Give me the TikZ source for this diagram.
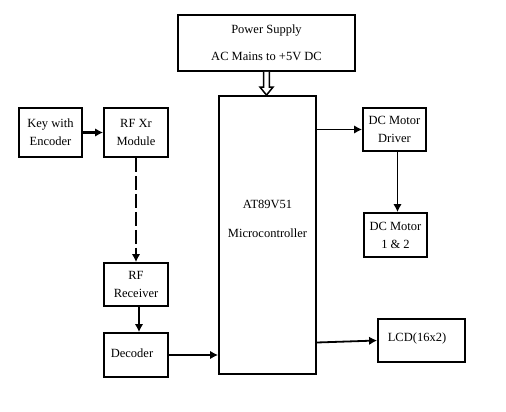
\documentclass[tikz,border=0pt]{standalone}
\usepackage{fontspec}
\setmainfont{Liberation Serif}
\usetikzlibrary{arrows.meta,calc,shadows}
\tikzset{
  blk/.style={draw=black, line width=1.8pt, fill=white, inner sep=0pt, align=center,
    font=\fontsize{12.5}{18}\selectfont,
    drop shadow={shadow xshift=1.2pt, shadow yshift=-1.2pt, fill=black, opacity=0.18}},
  conn/.style={line width=1.8pt, -{Latex[length=8pt,width=8.5pt]}},
  txt/.style={inner sep=0pt, font=\fontsize{12.5}{14}\selectfont}
}
\begin{document}
\begin{tikzpicture}[x=1pt,y=-1pt]
\useasboundingbox (0,0) rectangle (506,412);
\fill[white] (0,0) rectangle (506,412);

\node[blk, minimum width=177pt, minimum height=56pt, font=\fontsize{12.5}{27}\selectfont] (ps) at (266.5,43) {Power Supply\\AC Mains to +5V DC};
\node[blk, minimum width=97pt, minimum height=278pt] (mc) at (267.5,235) {};
\node[txt] (mct1) at (267.5,204) {AT89V51};
\node[txt] (mct2) at (267.5,233) {Microcontroller};

\node[blk, minimum width=63pt, minimum height=49pt] (key) at (50.5,132.5) {Key with\\Encoder};
\node[blk, minimum width=64pt, minimum height=49pt] (rfx) at (136,132.5) {RF Xr\\Module};
\node[blk, minimum width=64pt, minimum height=43pt] (rfr) at (136,284.5) {RF\\Receiver};
\node[blk, minimum width=64pt, minimum height=44pt] (dec) at (136,355) {};
\node[txt] (dect) at (132,353) {Decoder};
\node[blk, minimum width=63pt, minimum height=43pt] (drv) at (394.5,129.5) {DC Motor\\Driver};
\node[blk, minimum width=63pt, minimum height=44pt] (mot) at (395.5,235) {DC Motor\\1 \& 2};
\node[blk, minimum width=87pt, minimum height=43pt] (lcd) at (421.5,340.5) {};
\node[txt] (lcdt) at (417,338) {LCD(16x2)};

% power hollow arrow
\coordinate (pa) at (ps.south);
\coordinate (pb) at (ps.south |- mc.north);
\draw[line width=1.5pt, fill=white, line join=miter]
  ($(pa)+(-2.8,0)$) -- ($(pb)+(-2.8,-8)$) -- ($(pb)+(-6.5,-8)$) -- (pb)
  -- ($(pb)+(6.5,-8)$) -- ($(pb)+(2.8,-8)$) -- ($(pa)+(2.8,0)$);

\draw[conn, line width=2.2pt] (key.east) -- (rfx.west);
\draw[conn, dash pattern=on 14pt off 4pt] (rfx.south) -- (rfr.north);
\draw[conn] ([xshift=3pt]rfr.south) -- ([xshift=3pt]dec.north);
\draw[conn] (dec.east) -- (dec.east -| mc.west);
\draw[conn] (mc.east |- drv.west) -- (drv.west);
\draw[conn] ([xshift=3pt]drv.south) -- ([xshift=3pt]drv.south |- mot.north);
\draw[conn] ([yshift=-2pt]mc.east |- lcd.west) -- (lcd.west);
\end{tikzpicture}
\end{document}
